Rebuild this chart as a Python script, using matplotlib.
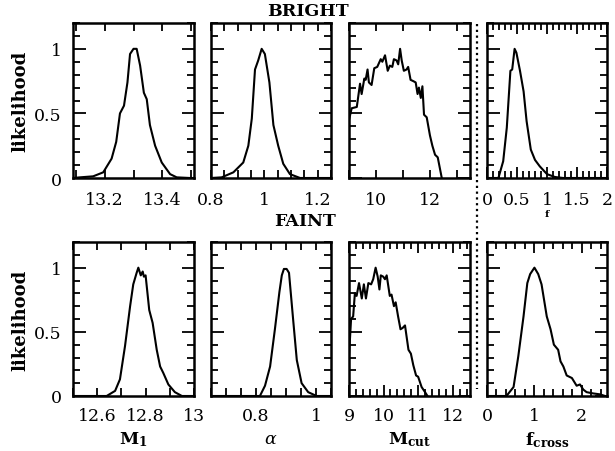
import matplotlib
matplotlib.use("Agg")
import matplotlib.pyplot as plt
from matplotlib.lines import Line2D
from matplotlib.ticker import MultipleLocator, FormatStrFormatter

plt.rcParams['font.family'] = 'DejaVu Serif'
plt.rcParams['mathtext.fontset'] = 'dejavuserif'

# ---- data ----
# BRIGHT sample
m1_b_x = [13.09, 13.114, 13.16, 13.195, 13.224, 13.24, 13.253, 13.267, 13.279, 13.288, 13.30, 13.311,
          13.323, 13.336, 13.346, 13.357, 13.375, 13.398, 13.427, 13.45, 13.496, 13.51]
m1_b_y = [0.0, 0.005, 0.013, 0.044, 0.15, 0.28, 0.50, 0.56, 0.74, 0.96, 1.0, 1.0,
          0.87, 0.66, 0.61, 0.41, 0.25, 0.12, 0.03, 0.005, 0.0, 0.0]

alpha_b_x = [0.80, 0.84, 0.884, 0.921, 0.94, 0.953, 0.965, 0.977, 0.99, 1.002, 1.019, 1.034,
             1.052, 1.071, 1.096, 1.134, 1.25]
alpha_b_y = [0.0, 0.005, 0.044, 0.12, 0.25, 0.46, 0.84, 0.91, 1.0, 0.96, 0.74, 0.41,
             0.25, 0.11, 0.03, 0.0, 0.0]

mcut_b_x = [9.0, 9.1, 9.29, 9.41, 9.47, 9.57, 9.62, 9.69, 9.74, 9.84, 9.94, 10.05, 10.18, 10.24,
            10.34, 10.44, 10.52, 10.61, 10.67, 10.77, 10.83, 10.90, 10.96, 11.04, 11.14, 11.2,
            11.29, 11.39, 11.48, 11.55, 11.6, 11.67, 11.73, 11.79, 11.89, 12.01, 12.1, 12.2,
            12.3, 12.45]
mcut_b_y = [0.45, 0.54, 0.55, 0.73, 0.65, 0.77, 0.76, 0.84, 0.74, 0.72, 0.85, 0.86, 0.92, 0.90,
            0.95, 0.83, 0.87, 0.86, 0.92, 0.91, 0.88, 1.0, 0.91, 0.83, 0.84, 0.86,
            0.76, 0.75, 0.74, 0.65, 0.70, 0.62, 0.71, 0.49, 0.47, 0.33, 0.25, 0.18,
            0.16, 0.0]

f_x = [0.0, 0.19, 0.27, 0.33, 0.39, 0.42, 0.46, 0.49, 0.55, 0.61, 0.66, 0.73, 0.80, 0.88,
       1.0, 1.13, 1.27, 2.0]
f_y = [0.0, 0.0, 0.13, 0.39, 0.83, 0.84, 1.0, 0.97, 0.83, 0.67, 0.44, 0.22, 0.14, 0.09,
       0.03, 0.008, 0.0, 0.0]

# FAINT sample
m1_f_x = [12.5, 12.639, 12.674, 12.694, 12.715, 12.736, 12.749, 12.763, 12.77, 12.78, 12.788,
          12.793, 12.80, 12.815, 12.829, 12.846, 12.86, 12.873, 12.894, 12.921, 12.95, 13.0]
m1_f_y = [0.0, 0.0, 0.04, 0.13, 0.39, 0.70, 0.87, 0.96, 1.0, 0.94, 0.97,
          0.93, 0.94, 0.67, 0.57, 0.36, 0.23, 0.18, 0.09, 0.03, 0.0, 0.0]

alpha_f_x = [0.65, 0.813, 0.83, 0.847, 0.863, 0.878, 0.886, 0.893, 0.902, 0.91, 0.924, 0.936,
             0.952, 0.974, 1.002, 1.05]
alpha_f_y = [0.0, 0.0, 0.08, 0.23, 0.52, 0.81, 0.94, 0.99, 0.99, 0.96, 0.59, 0.28,
             0.10, 0.03, 0.0, 0.0]

mcut_f_x = [9.0, 9.06, 9.12, 9.17, 9.22, 9.29, 9.37, 9.43, 9.49, 9.56, 9.64, 9.70, 9.77, 9.83,
            9.88, 9.92, 9.99, 10.04, 10.09, 10.18, 10.23, 10.30, 10.35, 10.42, 10.49, 10.55,
            10.62, 10.72, 10.79, 10.86, 10.94, 11.0, 11.1, 11.2, 11.27]
mcut_f_y = [0.31, 0.60, 0.62, 0.80, 0.78, 0.88, 0.76, 0.87, 0.76, 0.88, 0.87, 0.91, 1.0, 0.93,
            0.83, 0.94, 0.93, 0.91, 0.94, 0.78, 0.79, 0.70, 0.73, 0.62, 0.52, 0.53,
            0.55, 0.36, 0.33, 0.24, 0.16, 0.15, 0.07, 0.03, 0.0]

fcross_x = [0.0, 0.41, 0.56, 0.66, 0.77, 0.85, 0.91, 1.0, 1.08, 1.15, 1.26, 1.34, 1.41, 1.50,
            1.55, 1.61, 1.68, 1.79, 1.89, 1.96, 2.03, 2.10, 2.24, 2.38, 2.49]
fcross_y = [0.0, 0.0, 0.07, 0.31, 0.62, 0.88, 0.95, 1.0, 0.95, 0.87, 0.62, 0.52, 0.40, 0.36,
            0.27, 0.23, 0.16, 0.14, 0.08, 0.09, 0.05, 0.03, 0.02, 0.013, 0.0]

# per panel: data, xlim, labelled ticks, small tick step, long major ticks?
panels = [
    [(m1_b_x, m1_b_y, (13.09, 13.51), [13.2, 13.4], 0.1, False),
     (alpha_b_x, alpha_b_y, (0.8, 1.25), [0.8, 1.0, 1.2], 0.05, False),
     (mcut_b_x, mcut_b_y, (9.0, 13.5), [10, 12], 1.0, False),
     (f_x, f_y, (0.0, 2.0), [0, 0.5, 1, 1.5, 2], 0.1, True)],
    [(m1_f_x, m1_f_y, (12.5, 13.0), [12.6, 12.8, 13.0], 0.1, False),
     (alpha_f_x, alpha_f_y, (0.65, 1.05), [0.8, 1.0], 0.05, False),
     (mcut_f_x, mcut_f_y, (9.0, 12.5), [9, 10, 11, 12], 0.2, True),
     (fcross_x, fcross_y, (0.0, 2.53), [0, 1, 2], 0.2, True)],
]

W, H = 615, 452
cols = [(73, 194), (211, 331), (349, 470), (487, 607)]
rows = [(24, 179), (243, 397)]

fig = plt.figure(figsize=(W / 100, H / 100), dpi=100)

for r, (yt, yb) in enumerate(rows):
    for c, (xl, xr) in enumerate(cols):
        x, y, xlim, labs, step, longmaj = panels[r][c]
        ax = fig.add_axes([xl / W, 1 - yb / H, (xr - xl) / W, (yb - yt) / H])
        ax.plot(x, y, color='black', lw=1.5)
        ax.set_xlim(*xlim)
        ax.set_ylim(0, 1.2)
        ax.xaxis.set_major_locator(plt.FixedLocator(labs))
        ax.xaxis.set_minor_locator(MultipleLocator(step))
        ax.xaxis.set_major_formatter(FormatStrFormatter('%g'))
        ax.yaxis.set_major_locator(MultipleLocator(0.5))
        ax.yaxis.set_minor_locator(MultipleLocator(0.1))
        ax.yaxis.set_major_formatter(FormatStrFormatter('%g'))
        ax.tick_params(which='both', direction='in', top=True, right=True, width=1.3)
        ax.tick_params(axis='y', which='major', length=9, pad=8, labelsize=12.5)
        ax.tick_params(axis='y', which='minor', length=5)
        ax.tick_params(axis='x', which='major', length=8 if longmaj else 5.5,
                       pad=9.5 if r == 0 else 8, labelsize=12.5)
        ax.tick_params(axis='x', which='minor', length=5 if longmaj else 5.5)
        for s in ax.spines.values():
            s.set_linewidth(1.8)
        if c > 0:
            ax.set_yticklabels([])

for yc in [101, 320]:
    fig.text(20 / W, 1 - yc / H, 'likelihood', rotation=90, ha='center', va='center',
             fontsize=13, fontweight='bold')

fig.text(308 / W, 1 - 12 / H, 'BRIGHT', ha='center', va='center', fontsize=12.5, fontweight='bold')
fig.text(305 / W, 1 - 222 / H, 'FAINT', ha='center', va='center', fontsize=12.5, fontweight='bold')

fig.text(547 / W, 1 - 215 / H, 'f', ha='center', va='center', fontsize=7.5, fontweight='bold')
xlabels = [r'$\mathbf{M_1}$', r'$\alpha$', r'$\mathbf{M_{cut}}$', r'$\mathbf{f_{cross}}$']
for (xl, xr), lab in zip(cols, xlabels):
    fig.text((xl + xr) / 2 / W, 1 - 440 / H, lab, ha='center', va='center', fontsize=12.5)

fig.add_artist(Line2D([477 / W, 477 / W], [1 - 25 / H, 1 - 390 / H], transform=fig.transFigure,
                      color='black', lw=1.6, linestyle=(0, (1, 1.6))))

fig.savefig('out.png', dpi=100)
